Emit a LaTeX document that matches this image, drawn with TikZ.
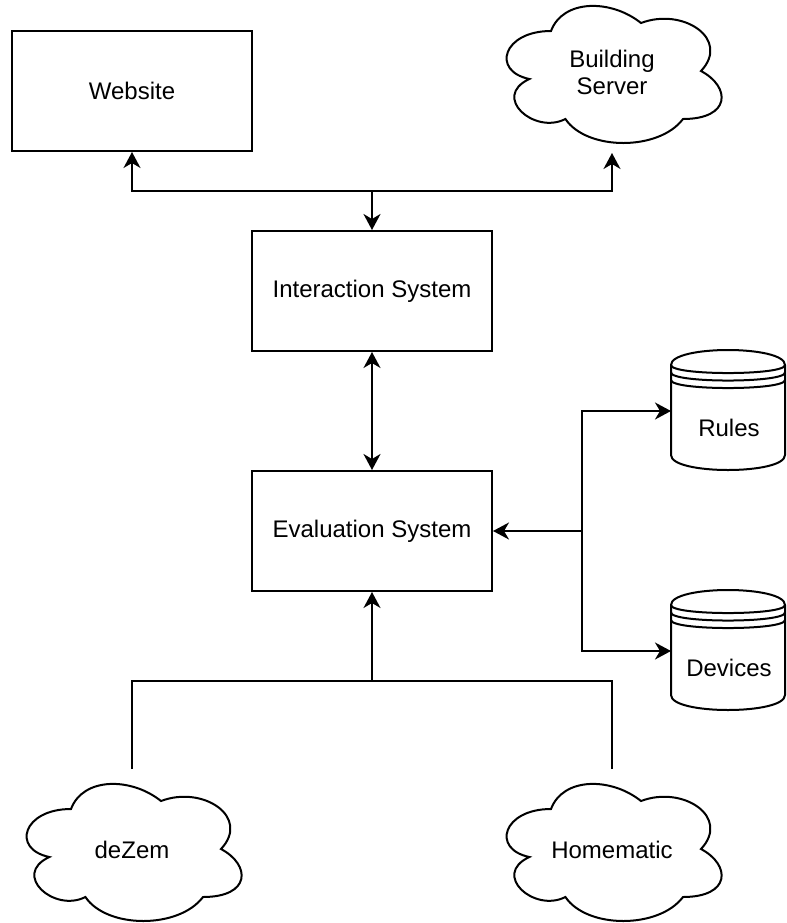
\documentclass[tikz,border=0pt]{standalone}
\usepackage{fontspec}
\setmainfont{Liberation Sans}
\usetikzlibrary{arrows.meta}
\usetikzlibrary{positioning}

% cloud outline inside the box of a node
\newcommand{\cloudshape}[1]{%
\draw[shift={(#1.north west)}] (60,40) .. controls (12,40) and (0,80) .. (38.4,88)
  .. controls (0,105.6) and (43.2,144) .. (74.4,128)
  .. controls (96,160) and (168,160) .. (192,128)
  .. controls (240,128) and (240,96) .. (210,80)
  .. controls (240,48) and (192,16) .. (150,32)
  .. controls (120,8) and (72,8) .. (60,40) -- cycle;}

% data store outline inside the box of a node
\newcommand{\dbshape}[1]{%
\draw[shift={(#1.north west)}] (0,15) .. controls (0,-5) and (114,-5) .. (114,15)
  -- (114,105) .. controls (114,125) and (0,125) .. (0,105) -- cycle;
\draw[shift={(#1.north west)}] (0,15) .. controls (0,25.7) and (114,25.7) .. (114,15);
\draw[shift={(#1.north west)}] (0,22.5) .. controls (0,33.2) and (114,33.2) .. (114,22.5);
\draw[shift={(#1.north west)}] (0,30) .. controls (0,40.7) and (114,40.7) .. (114,30);}

\begin{document}
\begin{tikzpicture}[x=0.5pt,y=-0.5pt,line width=1pt,
  font=\fontsize{12}{13.5}\selectfont,
  >={Stealth[length=8pt,width=8.5pt,inset=2.5pt]},
  block/.style={draw, minimum width=120pt, minimum height=60pt, inner sep=0pt},
  cloudbox/.style={minimum width=120pt, minimum height=80pt, inner sep=0pt, align=center},
  dbbox/.style={minimum width=57pt, minimum height=60pt, inner sep=0pt}]

\useasboundingbox (0,0) rectangle (787,923);

\node[block] (ws) at (132,91) {Website};
\node[cloudbox] (bs) at (612,72) {Building\\Server};
\cloudshape{bs}

\node[block] (is) at (372,291) {Interaction System};
\node[block, below=59pt of is] (es) {Evaluation System};

\node[dbbox] (rules) at (729,411) {};
\dbshape{rules}
\node (rules-text) at ([yshift=-8.5pt]rules.center) {Rules};

\node[dbbox] (devices) at (729,651) {};
\dbshape{devices}
\node (devices-text) at ([yshift=-8.5pt]devices.center) {Devices};

\node[cloudbox] (dz) at (132,850) {deZem};
\cloudshape{dz}
\node[cloudbox] (hm) at (612,850) {Homematic};
\cloudshape{hm}

\coordinate (split) at (372,191);
\draw[->] (split) -| (ws.south);
\draw[->] (split) -| (bs.south);
\draw[->] (split) -- (is.north);

\draw[<->] (is) -- (es);

\coordinate (dbsplit) at (582,531);
\draw[->] (dbsplit) -- (es.east);
\draw[->] (dbsplit) |- (rules.west);
\draw[->] (dbsplit) |- (devices.west);

\coordinate (srcjoin) at (372,681);
\draw[->] (srcjoin) -- (es.south);
\draw (dz.north) |- (srcjoin);
\draw (hm.north) |- (srcjoin);

\end{tikzpicture}
\end{document}
